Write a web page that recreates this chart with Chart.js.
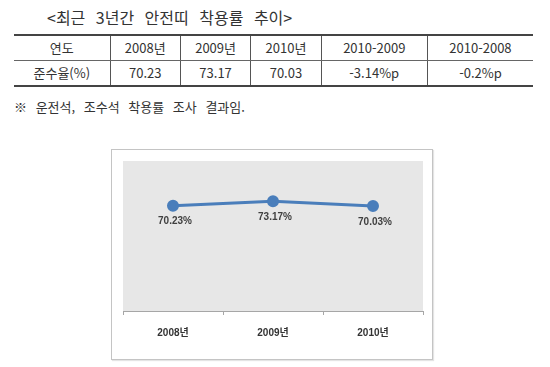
<!DOCTYPE html>
<html lang="ko">
<head>
<meta charset="utf-8">
<script src="https://cdn.jsdelivr.net/npm/chart.js@4/dist/chart.umd.min.js"></script>
<style>
    body { margin: 0; width: 550px; height: 367px; background: #fff; position: relative; overflow: hidden;
        font-family: "Noto Sans CJK KR", "Noto Sans", sans-serif; color: #333; }
    #title { position: absolute; left: 47px; top: 7px; font-size: 16px; line-height: 20px; word-spacing: 6px; white-space: nowrap; }
    #tbl { position: absolute; left: 14px; top: 34px; width: 519px; border-collapse: collapse; font-size: 13px; }
    #tbl td { height: 24px; padding: 0; text-align: center; border-left: 1px solid #555; border-right: 1px solid #555; line-height: 22px; }
    #tbl td:first-child { border-left: none; }
    #tbl td:last-child { border-right: none; }
    #tbl tr:first-child td { border-top: 2px solid #444; border-bottom: 1px solid #666; }
    #tbl tr:last-child td { border-bottom: 2px solid #444; }
    #note { position: absolute; left: 14px; top: 98px; font-size: 13px; line-height: 18px; white-space: nowrap; word-spacing: 5px; }
    #frame { position: absolute; left: 111px; top: 149px; width: 322px; height: 211px; box-sizing: border-box;
        border: 1px solid #c4c4c4; box-shadow: 1px 1px 1px #e4e4e4; background: #fff; }
</style>
</head>
<body>
<div id="title">&lt;최근 3년간 안전띠 착용률 추이&gt;</div>
<table id="tbl">
    <tr><td>연도</td><td>2008년</td><td>2009년</td><td>2010년</td><td>2010-2009</td><td>2010-2008</td></tr>
    <tr><td>준수율(%)</td><td>70.23</td><td>73.17</td><td>70.03</td><td>-3.14%p</td><td>-0.2%p</td></tr>
</table>
<div id="note">※ 운전석, 조수석 착용률 조사 결과임.</div>
<div id="frame"><canvas id="myChart"></canvas></div>

<script>
const years = ['2008년', '2009년', '2010년']
const rates = [70.23, 73.17, 70.03]
const rateLabels = ['70.23%', '73.17%', '70.03%']

// 회색 플롯 배경
const plotBg = {
    id: 'plotBg',
    beforeDraw(chart) {
        const { ctx, chartArea: a } = chart
        ctx.save()
        ctx.fillStyle = '#e7e7e7'
        ctx.fillRect(a.left, a.top, a.right - a.left, a.bottom - a.top)
        ctx.restore()
    }
}

// 점 아래 값 표시
const pointLabels = {
    id: 'pointLabels',
    afterDatasetsDraw(chart) {
        const { ctx } = chart
        const meta = chart.getDatasetMeta(0)
        ctx.save()
        ctx.font = 'bold 10px "Liberation Sans", Arial, sans-serif'
        ctx.fillStyle = '#404040'
        ctx.textAlign = 'center'
        ctx.textBaseline = 'middle'
        meta.data.forEach((pt, i) => {
            ctx.fillText(rateLabels[i], pt.x + 2, pt.y + 16)
        })
        ctx.restore()
    }
}

const ctx = document.getElementById('myChart')
new Chart(ctx, {
    type: 'line',
    data: {
        labels: years,
        datasets: [{
            data: rates,
            borderColor: '#4a7ebb',
            backgroundColor: '#4a7ebb',
            borderWidth: 3,
            pointRadius: 4.5,
            pointHoverRadius: 4.5,
            tension: 0
        }]
    },
    options: {
        responsive: true,
        maintainAspectRatio: false,
        animation: false,
        layout: { padding: { left: 11, right: 9, top: 11, bottom: 8 } },
        plugins: {
            legend: { display: false },
            tooltip: { enabled: false }
        },
        scales: {
            x: {
                offset: true,
                border: { color: '#a6a6a6', width: 1 },
                grid: { offset: true, drawOnChartArea: false, drawTicks: true, tickLength: 4, color: '#a6a6a6' },
                ticks: {
                    padding: 12,
                    color: '#333',
                    font: { family: '"Liberation Sans", Arial, "Noto Sans CJK KR", sans-serif', size: 10, weight: 'bold' }
                }
            },
            y: {
                display: false,
                min: 0,
                max: 100
            }
        }
    },
    plugins: [plotBg, pointLabels]
})
</script>
</body>
</html>
